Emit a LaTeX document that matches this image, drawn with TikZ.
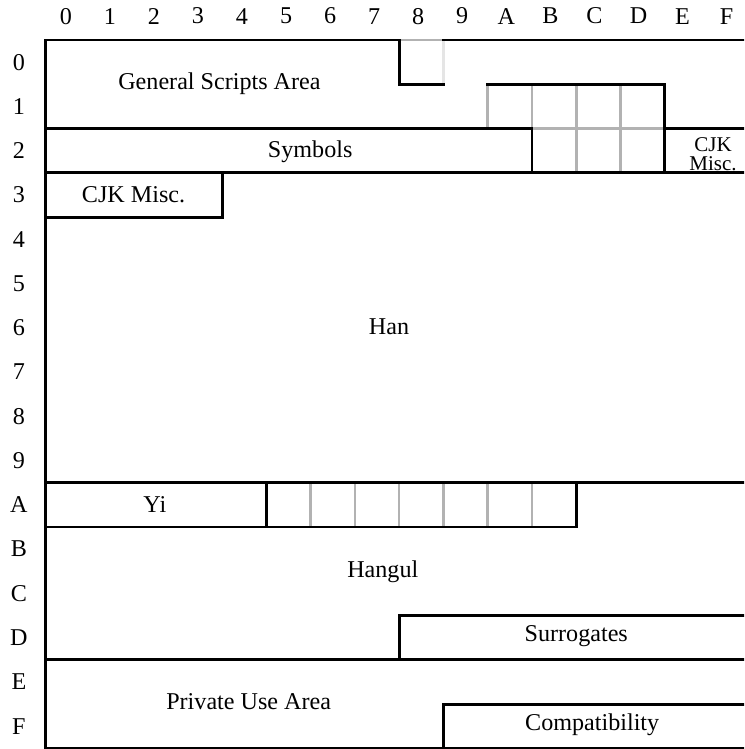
\documentclass[tikz,border=0pt]{standalone}
\usepackage{fontspec}
\setmainfont{Liberation Serif}
\usepackage{tikz}

\begin{document}
\begin{tikzpicture}[x=1cm, y=-1cm,
    linha/.style={line width=1.9pt, black, line cap=rect},
    celula/.style={line width=1.6pt, draw=black!30},
    rotulo/.style={font=\fontsize{15.5}{18}\selectfont, inner sep=0pt},
    rotuloP/.style={font=\fontsize{13.5}{12.2}\selectfont, align=center, inner sep=0pt}
  ]
    \useasboundingbox (-1.017,-0.904) rectangle (15.79,16.015);
    \clip (-1.017,-0.904) rectangle (15.79,16.015);

    % cabecalhos de colunas e linhas
    \foreach \c [count=\i from 0] in {0,1,2,3,4,5,6,7,8,9,A,B,C,D,E,F} {
      \node[rotulo] (col\c) at ({0.47+0.995*\i},-0.54) {\c};
      \node[rotulo] (lin\c) at (-0.59,\i+0.5) {\c};
    }

    % celulas cinzas
    \draw[black!30, line width=1.6pt] (8,0) -- (9,0);
    \draw[black!10, line width=1.6pt] (9,0) -- (9,1);
    \foreach \x in {10,...,13} \draw[celula] (\x,1) rectangle ++(1,1);
    \foreach \x in {11,...,13} \draw[celula] (\x,2) rectangle ++(1,1);
    \foreach \x in {5,...,11} \draw[celula] (\x,10) rectangle ++(1,1);

    % blocos
    \draw[linha] (0,0) -- (8,0) -- (8,1) -- (9,1);
    \draw[linha] (9,0) -- (16,0);
    \draw[linha] (0,0) -- (0,16) -- (16,16) -- (16,0);
    \draw[linha] (10,1) -- (14,1) -- (14,3);
    \draw[linha] (0,2) -- (11,2) -- (11,3);
    \draw[linha] (14,2) -- (16,2);
    \draw[linha] (0,3) -- (16,3);
    \draw[linha] (0,4) -- (4,4) -- (4,3);
    \draw[linha] (0,10) -- (16,10);
    \draw[linha] (5,10) -- (5,11);
    \draw[linha] (0,11) -- (12,11) -- (12,10);
    \draw[linha] (8,14) -- (8,13) -- (16,13);
    \draw[linha] (0,14) -- (16,14);
    \draw[linha] (9,16) -- (9,15) -- (16,15);

    \node[rotulo] (geral) at (3.94,0.99) {General Scripts Area};
    \node[rotulo] (simbolos) at (5.99,2.53) {Symbols};
    \node[rotulo] (cjkA) at (2,3.5) {CJK Misc.};
    \node[rotuloP] (cjkB) at (15.09,2.58) {CJK\\Misc.};
    \node[rotulo] (han) at (7.77,6.48) {Han};
    \node[rotulo] (yi) at (2.48,10.5) {Yi};
    \node[rotulo] (hangul) at (7.63,12) {Hangul};
    \node[rotulo] (surrog) at (12,13.46) {Surrogates};
    \node[rotulo] (privado) at (4.6,14.95) {Private Use Area};
    \node[rotulo] (compat) at (12.36,15.47) {Compatibility};
\end{tikzpicture}
\end{document}
